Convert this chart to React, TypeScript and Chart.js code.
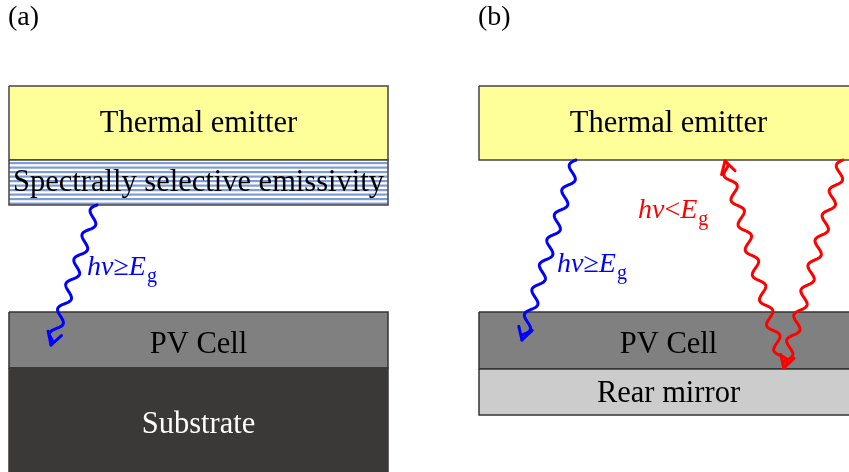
import { useEffect, useRef } from "react";
import { Chart, registerables } from "chart.js";

Chart.register(...registerables);

// ---- Diagram data (diagram units: x 0..849, y 0..472 from top) ----
const panelLabels = ["(a)", "(b)"];
const panelLabelX = [8, 478];
const panelLabelY = [25, 25];

const layerNames = [
  "Thermal emitter",
  "Spectrally selective emissivity",
  "PV Cell",
  "Substrate",
  "Thermal emitter",
  "PV Cell",
  "Rear mirror",
];
const layerLeft = [9, 9, 9, 9, 479, 479, 479];
const layerRight = [388, 388, 388, 388, 858, 858, 858];
const layerTop = [86, 160, 312, 368, 86, 312, 369];
const layerBottom = [160, 205, 368, 474, 160, 369, 415];
const layerTextBaseline = [132, 191, 353, 433, 132, 353, 402];

const rayStartX = [97, 576, 784, 843];
const rayStartY = [205, 160, 368, 160];
const rayEndX = [51, 522, 725, 784];
const rayEndY = [345, 340, 161, 368];

const photonRelation = ["≥", "≥", "<"];
const photonLabelX = [87, 557, 638];
const photonLabelY = [275, 272, 218];

// ---- Styles ----
const layerFill = ["#ffff99", "stripes", "#808080", "#3a3938", "#ffff99", "#808080", "#cccccc"];
const layerTextColor = ["#000", "#000", "#000", "#ffffff", "#000", "#000", "#000"];
const layerBorder = ["#444", "#444", "#333", "#3a3938", "#444", "#333", "#333"];
const rayColor = ["#0000ff", "#0000ff", "#ff0000", "#ff0000"];
const photonColor = ["#0000ff", "#0000ff", "#ff0000"];
const SERIF = '"Liberation Serif", "Times New Roman", serif';

function makeStripePattern(ctx: CanvasRenderingContext2D): CanvasPattern | string {
  const c = document.createElement("canvas");
  c.width = 8;
  c.height = 9;
  const g = c.getContext("2d");
  if (!g) return "#7e9bd6";
  g.fillStyle = "#ffffff";
  g.fillRect(0, 0, 8, 9);
  g.fillStyle = "#7e9bd6";
  g.fillRect(0, 0, 8, 2.2);
  g.fillRect(0, 4.5, 8, 2.2);
  return ctx.createPattern(c, "repeat") || "#7e9bd6";
}

function drawWavyArrow(
  ctx: CanvasRenderingContext2D,
  x0: number,
  y0: number,
  x1: number,
  y1: number,
  color: string
) {
  const amp = 5;
  const wl = 26;
  const fade = 8;
  const dx = x1 - x0;
  const dy = y1 - y0;
  const L = Math.hypot(dx, dy);
  const ux = dx / L;
  const uy = dy / L;
  const nx = -uy;
  const ny = ux;
  ctx.save();
  ctx.strokeStyle = color;
  ctx.lineWidth = 3;
  ctx.lineJoin = "round";
  ctx.lineCap = "round";
  ctx.beginPath();
  for (let s = 0; s <= L; s += 0.5) {
    const env = s > L - fade ? Math.max(0, (L - s) / fade) : 1;
    const o = amp * env * Math.sin((2 * Math.PI * s) / wl);
    const px = x0 + ux * s + nx * o;
    const py = y0 + uy * s + ny * o;
    if (s === 0) ctx.moveTo(px, py);
    else ctx.lineTo(px, py);
  }
  ctx.lineTo(x1, y1);
  ctx.stroke();
  // arrow head (open V)
  const hl = 14;
  const ang = (30 * Math.PI) / 180;
  const bx = -ux;
  const by = -uy;
  const c = Math.cos(ang);
  const sn = Math.sin(ang);
  ctx.beginPath();
  ctx.moveTo(x1 + hl * (bx * c - by * sn), y1 + hl * (bx * sn + by * c));
  ctx.lineTo(x1, y1);
  ctx.lineTo(x1 + hl * (bx * c + by * sn), y1 + hl * (-bx * sn + by * c));
  ctx.stroke();
  ctx.restore();
}

function drawPhotonLabel(
  ctx: CanvasRenderingContext2D,
  x: number,
  y: number,
  rel: string,
  color: string
) {
  const segs: { t: string; font: string; dy: number; pre: number }[] = [
    { t: "h", font: `italic 28px ${SERIF}`, dy: 0, pre: 0 },
    { t: "ν", font: `italic 28px ${SERIF}`, dy: 0, pre: 0 },
    { t: rel, font: `28px ${SERIF}`, dy: 0, pre: 0 },
    { t: "E", font: `italic 28px ${SERIF}`, dy: 0, pre: 0 },
    { t: "g", font: `20px ${SERIF}`, dy: 7, pre: 1 },
  ];
  ctx.save();
  ctx.fillStyle = color;
  ctx.textBaseline = "alphabetic";
  ctx.textAlign = "left";
  let cx = x;
  for (const s of segs) {
    ctx.font = s.font;
    cx += s.pre;
    ctx.fillText(s.t, cx, y + s.dy);
    cx += ctx.measureText(s.t).width;
  }
  ctx.restore();
}

const diagramPlugin = {
  id: "diagramDecor",
  afterDatasetsDraw(chart: any) {
    const ctx: CanvasRenderingContext2D = chart.ctx;
    const xs = chart.scales.x;
    const ys = chart.scales.y;
    const X = (v: number) => xs.getPixelForValue(v);
    const Y = (v: number) => ys.getPixelForValue(v);

    ctx.save();
    ctx.textAlign = "center";
    ctx.textBaseline = "alphabetic";
    ctx.font = `30.5px ${SERIF}`;
    layerNames.forEach((name, i) => {
      ctx.fillStyle = layerTextColor[i];
      ctx.fillText(name, X((layerLeft[i] + layerRight[i]) / 2), Y(layerTextBaseline[i]));
    });
    ctx.textAlign = "left";
    ctx.fillStyle = "#000";
    ctx.font = `28px ${SERIF}`;
    panelLabels.forEach((t, i) => ctx.fillText(t, X(panelLabelX[i]), Y(panelLabelY[i])));
    ctx.restore();

    rayStartX.forEach((_, i) => {
      drawWavyArrow(ctx, X(rayStartX[i]), Y(rayStartY[i]), X(rayEndX[i]), Y(rayEndY[i]), rayColor[i]);
    });

    photonRelation.forEach((rel, i) => {
      drawPhotonLabel(ctx, X(photonLabelX[i]), Y(photonLabelY[i]), rel, photonColor[i]);
    });
  },
};

export default function App() {
  const ref = useRef<HTMLCanvasElement | null>(null);
  useEffect(() => {
    const canvas = ref.current;
    if (!canvas) return;
    const ctx = canvas.getContext("2d");
    if (!ctx) return;
    const stripes = makeStripePattern(ctx);
    const datasets = layerNames.map((name, i) => ({
      label: name,
      data: [
        { x: layerLeft[i], y: layerTop[i] },
        { x: layerRight[i], y: layerTop[i] },
        { x: layerRight[i], y: layerBottom[i] },
        { x: layerLeft[i], y: layerBottom[i] },
        { x: layerLeft[i], y: layerTop[i] },
      ],
      showLine: true,
      fill: "shape",
      backgroundColor: layerFill[i] === "stripes" ? stripes : layerFill[i],
      borderColor: layerBorder[i],
      borderWidth: 1.5,
      pointRadius: 0,
      tension: 0,
      clip: false,
      order: layerNames.length - i,
    }));
    const chart = new Chart(canvas, {
      type: "scatter",
      data: { datasets: datasets as any },
      options: {
        animation: false,
        responsive: false,
        maintainAspectRatio: false,
        layout: { padding: 0 },
        events: [],
        scales: {
          x: { type: "linear", min: 0, max: 849, display: false },
          y: { type: "linear", min: 0, max: 472, reverse: true, display: false },
        },
        plugins: {
          legend: { display: false },
          tooltip: { enabled: false },
        },
      },
      plugins: [diagramPlugin],
    });
    return () => chart.destroy();
  }, []);
  return (
    <div style={{ position: "fixed", left: 0, top: 0, width: 849, height: 472, background: "#fff" }}>
      <canvas ref={ref} width={849} height={472} style={{ width: 849, height: 472, display: "block" }} />
    </div>
  );
}
